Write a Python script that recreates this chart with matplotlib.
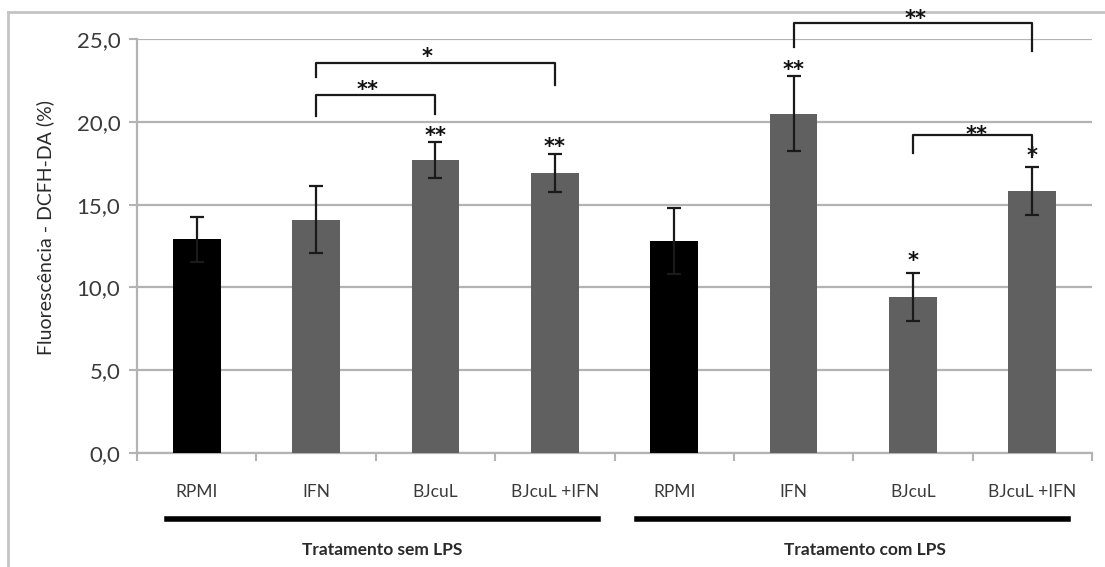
import numpy as np
import matplotlib
matplotlib.use("Agg")
import matplotlib.pyplot as plt
from matplotlib.lines import Line2D
from matplotlib.ticker import FuncFormatter, FixedLocator

plt.rcParams['font.family'] = ['Lato', 'DejaVu Sans']

# data
labels = ['RPMI', 'IFN', 'BJcuL', 'BJcuL +IFN', 'RPMI', 'IFN', 'BJcuL', 'BJcuL +IFN']
values = [12.9, 14.1, 17.7, 16.9, 12.8, 20.5, 9.4, 15.8]
errors = [1.35, 2.0, 1.1, 1.15, 2.0, 2.25, 1.45, 1.45]
colors = ['#000000', '#606060', '#606060', '#606060', '#000000', '#606060', '#606060', '#606060']

# stars above single bars: (bar index, y, text)
bar_stars = [(2, 19.55, '**'), (3, 18.85, '**'), (5, 23.5, '**'), (6, 12.0, '*'), (7, 18.35, '*')]
# brackets: (left bar, right bar, top y, left leg bottom, right leg bottom, text x, text y, text)
brackets = [
    (1, 2, 21.6, 20.35, 20.5, 1.43, 22.3, '**'),
    (1, 3, 23.55, 22.7, 22.2, 1.93, 24.3, '*'),
    (5, 7, 25.95, 24.5, 24.3, 6.02, 26.6, '**'),
    (6, 7, 19.2, 18.1, 17.9, 6.53, 19.6, '**'),
]
groups = ['Tratamento sem LPS', 'Tratamento com LPS']

fig = plt.figure(figsize=(11.05, 5.67), dpi=100)
ax = fig.add_axes([137 / 1105, 1 - 453 / 567, (1092 - 137) / 1105, (453 - 39) / 567])

x = np.arange(len(values))
ax.bar(x, values, width=0.4, color=colors, zorder=3)
ax.errorbar(x, values, yerr=errors, fmt='none', ecolor='#1a1a1a', elinewidth=1.6,
            capsize=5, capthick=1.6, zorder=4)

ax.set_xlim(-0.5, 7.5)
ax.set_ylim(0, 25)
ax.set_yticks(np.arange(0, 26, 5))
ax.yaxis.set_major_formatter(FuncFormatter(lambda v, p: f'{v:.1f}'.replace('.', ',')))
ax.grid(axis='y', color='#b3b3b3', linewidth=1.6, zorder=0)
ax.set_axisbelow(True)

ax.set_xticks(x)
ax.set_xticklabels(labels)
ax.xaxis.set_minor_locator(FixedLocator(np.arange(-0.5, 8, 1)))
ax.tick_params(axis='x', which='major', length=0, pad=22, labelsize=12.5, labelcolor='#3a3a3a')
ax.tick_params(axis='x', which='minor', length=6, width=1.5, color='#b3b3b3', direction='out')
ax.tick_params(axis='y', length=6, width=1.5, color='#b3b3b3', labelsize=16,
               labelcolor='#3a3a3a', pad=6)
for s in ['top', 'right']:
    ax.spines[s].set_visible(False)
for s in ['left', 'bottom']:
    ax.spines[s].set_color('#b3b3b3')
    ax.spines[s].set_linewidth(1.6)

ax.set_ylabel('Fluorescência - DCFH-DA (%)', fontsize=14, color='#2a2a2a', labelpad=16)
ax.yaxis.label.set_y(0.545)

star_kw = dict(ha='center', va='baseline', fontsize=15, fontweight='bold', color='#111111',
               family='DejaVu Sans', textcoords='offset points', xytext=(0, -9),
               annotation_clip=False)

for i, y, t in bar_stars:
    ax.annotate(t, (i, y), **star_kw)

for a, b, top, la, lb, tx, ty, t in brackets:
    ax.plot([a, a, b, b], [la, top, top, lb], color='#1a1a1a', lw=1.6, clip_on=False, zorder=5)
    ax.annotate(t, (tx, ty), **star_kw)

# group underlines and labels
inv = fig.transFigure.inverted()
fy = 1 - 519 / 567
for (x0, x1), g, lx in zip([(-0.25, 3.36), (3.69, 7.30)], groups, [1.55, 5.6]):
    p0 = inv.transform(ax.transData.transform((x0, 0)))[0]
    p1 = inv.transform(ax.transData.transform((x1, 0)))[0]
    fig.add_artist(Line2D([p0, p1], [fy, fy], color='black', lw=4))
    pl = inv.transform(ax.transData.transform((lx, 0)))[0]
    fig.text(pl, 1 - 550 / 567, g, ha='center', va='center', fontsize=12.5,
             fontweight='bold', color='#2a2a2a')

# outer chart frame, drawn beneath the axes content
fig.add_artist(Line2D([8 / 1105, 8 / 1105], [0, 1 - 12 / 567], color='#c4c4c4', lw=2, zorder=-1))
fig.add_artist(Line2D([8 / 1105, 1], [1 - 12 / 567, 1 - 12 / 567], color='#c4c4c4', lw=2, zorder=-1))

fig.savefig('out.png', dpi=100)
